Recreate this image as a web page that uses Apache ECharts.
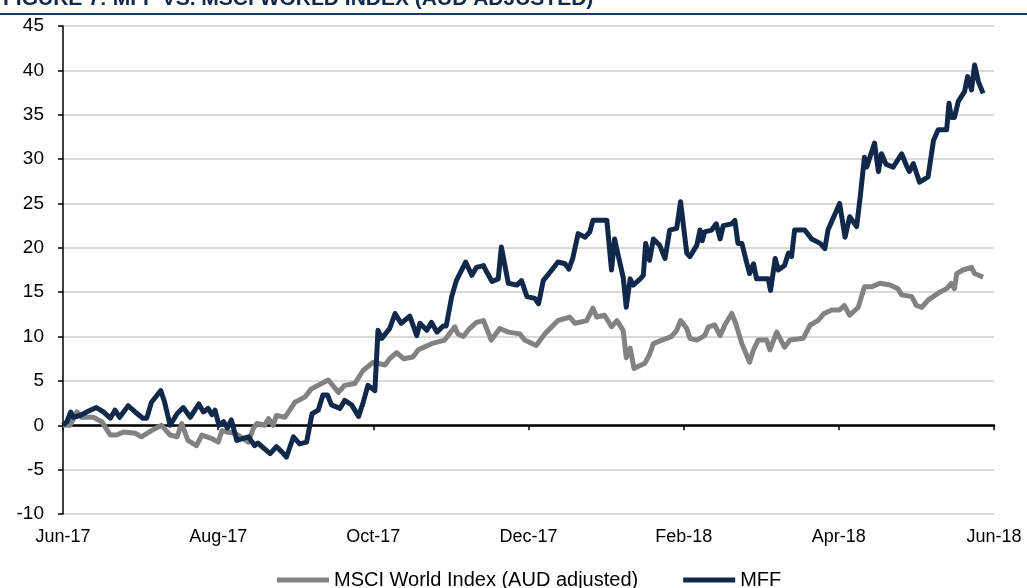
<!DOCTYPE html>
<html>
<head>
<meta charset="utf-8">
<script src="https://cdn.jsdelivr.net/npm/echarts@6/dist/echarts.min.js"></script>
<style>
  html, body { margin: 0; padding: 0; background: #fff; }
  #chart { width: 1027px; height: 588px; }
</style>
</head>
<body>
<div id="chart"></div>
<script>
// x values are months since 1 Jun 2017
var tickLabels = ['Jun-17', 'Aug-17', 'Oct-17', 'Dec-17', 'Feb-18', 'Apr-18', 'Jun-18'];

var mffMonths = [0,0.05,0.10,0.13,0.22,0.33,0.43,0.52,0.61,0.67,
  0.73,0.84,0.93,1.03,1.08,1.14,1.26,1.31,1.38,1.47,
  1.55,1.64,1.75,1.81,1.87,1.92,1.96,2.01,2.07,2.12,
  2.17,2.24,2.39,2.47,2.51,2.67,2.75,2.82,2.88,2.97,
  3.05,3.14,3.21,3.29,3.35,3.41,3.46,3.57,3.63,3.72,
  3.81,3.87,3.93,4.02,4.06,4.11,4.21,4.28,4.32,4.36,
  4.47,4.56,4.60,4.69,4.75,4.82,4.90,4.94,5.01,5.07,
  5.19,5.27,5.33,5.42,5.46,5.53,5.61,5.65,5.74,5.85,
  5.91,5.98,6.08,6.13,6.19,6.30,6.38,6.47,6.52,6.57,
  6.64,6.73,6.79,6.83,7.01,7.07,7.11,7.16,7.22,7.26,
  7.31,7.35,7.44,7.48,7.51,7.56,7.61,7.69,7.76,7.82,
  7.91,7.96,8.04,8.08,8.17,8.21,8.24,8.27,8.36,8.42,
  8.47,8.51,8.62,8.66,8.70,8.75,8.81,8.85,8.90,8.94,
  9.09,9.12,9.18,9.22,9.30,9.35,9.39,9.43,9.56,9.65,
  9.76,9.82,9.86,10.01,10.08,10.14,10.23,10.28,10.33,10.36,
  10.40,10.46,10.51,10.55,10.61,10.70,10.81,10.87,10.91,10.96,
  11.04,11.15,11.22,11.28,11.39,11.42,11.45,11.49,11.54,11.62,
  11.66,11.71,11.75,11.80,11.86];
var mffValues = [0,0.4,1.5,0.9,1.1,1.6,2.0,1.5,0.8,1.7,
  0.9,2.2,1.5,0.8,0.8,2.6,3.9,2.6,0,1.3,
  2.0,0.9,2.4,1.5,1.9,1.2,1.7,0,0.4,-0.3,
  0.6,-1.7,-1.3,-2.3,-2.0,-3.2,-2.4,-3.0,-3.6,-1.3,
  -2.1,-1.9,1.3,1.7,3.4,3.4,2.3,1.9,2.8,2.3,
  1.0,2.6,4.5,3.9,10.7,9.8,10.9,12.6,12.0,11.5,
  12.3,10.1,11.5,10.7,11.6,10.5,11.2,11.2,14.5,16.3,
  18.4,16.9,17.8,18.0,17.3,16.2,16.5,20.1,16.0,15.8,
  16.3,14.5,14.3,13.7,16.3,17.5,18.4,18.2,17.6,18.8,
  21.6,21.2,21.8,23.1,23.1,17.5,21.0,19.0,16.7,13.3,
  16.5,15.8,16.5,16.9,20.5,18.6,21.0,20.3,18.8,22.0,
  22.2,25.2,19.4,19.0,20.3,22.0,20.8,21.8,22.0,22.7,
  21.0,22.5,22.7,23.1,20.5,20.5,18.4,17.1,18.2,16.5,
  16.5,15.2,18.8,17.5,18.0,19.4,19.0,22.0,22.0,21.0,
  20.5,19.9,22.0,25.0,21.2,23.5,22.4,26.1,30.2,29.1,
  30.2,31.8,28.6,30.6,29.4,29.1,30.6,29.3,28.6,29.5,
  27.4,28.0,32.1,33.3,33.3,36.3,34.7,34.7,36.5,37.6,
  39.3,37.8,40.6,38.7,37.4];

var msciMonths = [0,0.09,0.18,0.24,0.39,0.50,0.61,0.69,0.78,0.93,
  1.01,1.14,1.27,1.38,1.47,1.53,1.61,1.72,1.79,1.92,
  2.00,2.05,2.11,2.22,2.39,2.45,2.50,2.60,2.65,2.71,
  2.75,2.86,2.99,3.12,3.20,3.29,3.42,3.55,3.63,3.76,
  3.87,4.00,4.15,4.21,4.30,4.39,4.51,4.58,4.75,4.92,
  5.05,5.09,5.16,5.24,5.33,5.42,5.52,5.63,5.74,5.89,
  5.95,6.10,6.21,6.38,6.53,6.60,6.75,6.83,6.88,6.98,
  7.07,7.14,7.22,7.26,7.31,7.36,7.50,7.56,7.61,7.72,
  7.84,7.91,7.96,8.04,8.08,8.17,8.27,8.32,8.40,8.47,
  8.53,8.62,8.67,8.75,8.85,8.90,8.96,9.07,9.11,9.20,
  9.30,9.37,9.54,9.63,9.73,9.81,9.91,10.01,10.07,10.14,
  10.25,10.33,10.42,10.53,10.66,10.76,10.81,10.94,11.00,11.07,
  11.15,11.30,11.39,11.45,11.49,11.52,11.60,11.71,11.75,11.86];
var msciValues = [0,0,1.5,0.9,0.9,0.4,-1.1,-1.1,-0.75,-0.9,
  -1.3,-0.6,0,-1.1,-1.3,0.2,-1.7,-2.3,-1.1,-1.5,
  -1.9,-0.6,-0.75,-0.9,-1.9,-0.4,0.2,0,0.75,0,
  1.1,0.9,2.6,3.2,4.1,4.5,5.1,3.7,4.5,4.7,
  6.2,7.1,6.8,7.5,8.2,7.5,7.7,8.5,9.2,9.6,
  11.1,10.3,10.0,10.9,11.6,11.8,9.6,10.9,10.5,10.3,
  9.6,9.0,10.3,11.8,12.2,11.5,11.8,13.2,12.2,12.4,
  11.1,11.8,10.7,7.6,8.7,6.4,7.0,8.0,9.2,9.6,
  10.0,10.7,11.8,10.9,9.8,9.6,10.1,11.1,11.3,10.1,
  11.3,12.6,11.5,9.2,7.1,8.5,9.6,9.6,8.5,10.5,
  8.8,9.6,9.8,11.3,11.8,12.6,13.0,13.0,13.5,12.4,
  13.3,15.6,15.6,16.0,15.8,15.4,14.7,14.5,13.5,13.3,
  14.1,15.0,15.4,16.0,15.4,17.1,17.5,17.8,17.1,16.7];

function zip(xs, ys) {
    var arr = [];
    for (var i = 0; i < xs.length; i++) arr.push([xs[i], ys[i]]);
    return arr;
}

var font = "'Liberation Sans', Arial, sans-serif";
var navy = '#10284a';
var grey = '#828282';

var chart = echarts.init(document.getElementById('chart'));
var option = {
    animation: false,
    title: {
        text: 'FIGURE 7: MFF VS. MSCI WORLD INDEX (AUD ADJUSTED)',
        left: -2,
        top: -16,
        textStyle: { color: navy, fontSize: 21, fontWeight: 'bold', fontFamily: font }
    },
    graphic: [{
        type: 'line',
        shape: { x1: 0, y1: 14, x2: 1027, y2: 14 },
        style: { stroke: '#1f3864', lineWidth: 2 }
    }],
    legend: {
        left: 272,
        top: 565,
        icon: 'rect',
        itemWidth: 52,
        itemHeight: 5,
        itemGap: 45,
        textStyle: { fontSize: 20, color: '#000', fontFamily: font },
        data: ['MSCI World Index (AUD adjusted)', 'MFF']
    },
    grid: {
        left: 63,
        right: 33,
        top: 26,
        bottom: 74,
        containLabel: false
    },
    xAxis: [{
        type: 'value',
        position: 'bottom',
        min: 0,
        max: 12,
        interval: 2,
        axisLine: { onZero: true, lineStyle: { color: '#000', width: 2.5 } },
        axisTick: { show: true, length: 5, lineStyle: { color: '#000', width: 1.5 } },
        axisLabel: { show: false },
        splitLine: { show: false }
    }, {
        type: 'value',
        position: 'bottom',
        min: 0,
        max: 12,
        interval: 2,
        axisLine: { show: false, onZero: false },
        axisTick: { show: false },
        splitLine: { show: false },
        axisLabel: {
            margin: 14,
            fontSize: 18,
            color: '#000',
            fontFamily: font,
            formatter: function (v) { return tickLabels[Math.round(v / 2)]; }
        }
    }],
    yAxis: {
        type: 'value',
        min: -10,
        max: 45,
        interval: 5,
        axisLine: { show: true, lineStyle: { color: '#000', width: 1.5 } },
        axisTick: { show: true, inside: false, length: 5, lineStyle: { color: '#000', width: 1.5 } },
        axisLabel: { margin: 19, fontSize: 19, color: '#000', fontFamily: font },
        splitLine: { lineStyle: { color: '#d9d9d9', width: 2 } }
    },
    series: [{
        name: 'MSCI World Index (AUD adjusted)',
        type: 'line',
        xAxisIndex: 0,
        showSymbol: false,
        color: grey,
        lineStyle: { color: grey, width: 5, join: 'round' },
        data: zip(msciMonths, msciValues)
    }, {
        name: 'MFF',
        type: 'line',
        xAxisIndex: 0,
        showSymbol: false,
        color: navy,
        lineStyle: { color: navy, width: 5, join: 'round' },
        data: zip(mffMonths, mffValues)
    }]
};
chart.setOption(option);
</script>
</body>
</html>
